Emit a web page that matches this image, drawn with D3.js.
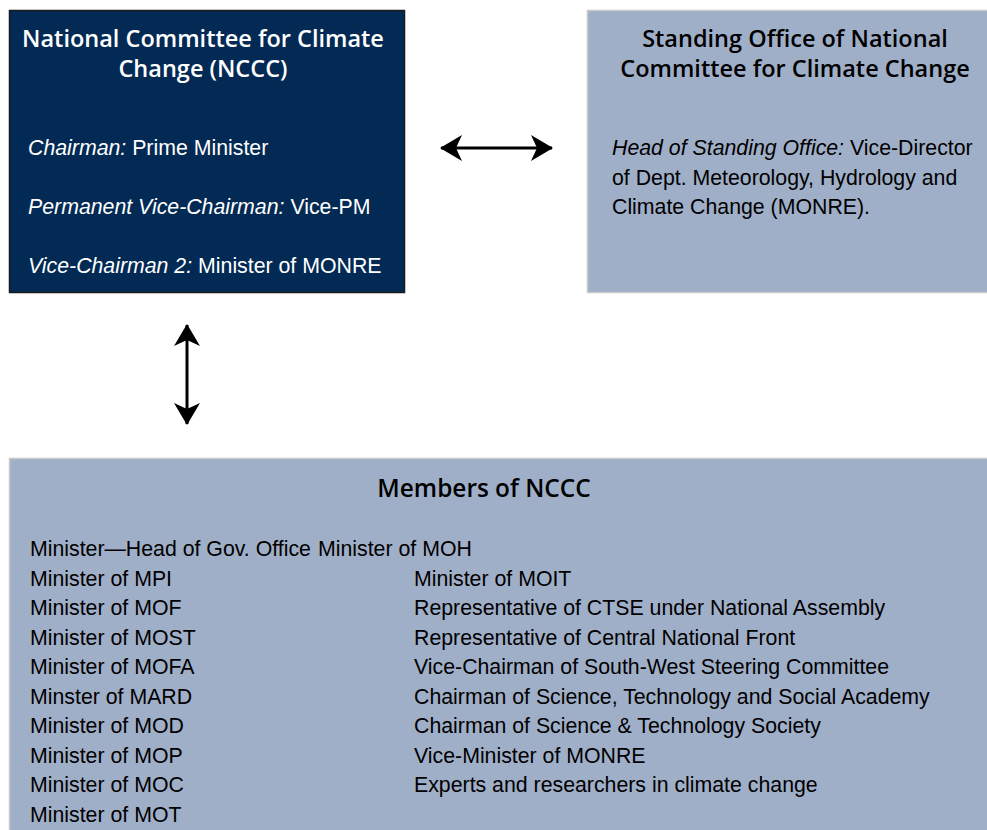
<!DOCTYPE html>
<html>
<head>
<meta charset="utf-8">
<script src="https://cdn.jsdelivr.net/npm/d3@7"></script>
<style>
  body { margin: 0; background: #fff; }
  svg { display: block; }
</style>
</head>
<body>
<div id="chart"></div>
<script>
// data
var nccTitle = ["National Committee for Climate", "Change (NCCC)"];
var nccRoles = [
  ["Chairman:", "Prime Minister"],
  ["Permanent Vice-Chairman:", "Vice-PM"],
  ["Vice-Chairman 2:", "Minister of MONRE"]
];
var officeTitle = ["Standing Office of National", "Committee for Climate Change"];
var officeLines = [
  ["Head of Standing Office:", "Vice-Director"],
  ["", "of Dept. Meteorology, Hydrology and"],
  ["", "Climate Change (MONRE)."]
];
var membersTitle = "Members of NCCC";
var membersLeft = [
  "Minister\u2014Head of Gov. Office",
  "Minister of MPI", "Minister of MOF", "Minister of MOST", "Minister of MOFA",
  "Minster of MARD", "Minister of MOD", "Minister of MOP", "Minister of MOC",
  "Minister of MOT"
];
var membersRight = [
  "Minister of MOH",
  "Minister of MOIT",
  "Representative of CTSE under National Assembly",
  "Representative of Central National Front",
  "Vice-Chairman of South-West Steering Committee",
  "Chairman of Science, Technology and Social Academy",
  "Chairman of Science & Technology Society",
  "Vice-Minister of MONRE",
  "Experts and researchers in climate change"
];

var width = 987, height = 830;
var navy = "#022a54", pale = "#a0afc8";
var bodyFont = "'Liberation Sans', Arial, sans-serif";
var titleFont = "'Open Sans', Lato, sans-serif";
var fs = 21.3, tfs = 23.5;

var svg = d3.select("#chart").append("svg")
    .attr("width", width)
    .attr("height", height);

var defs = svg.append("defs");
defs.append("marker")
    .attr("id", "head")
    .attr("viewBox", "0 0 22 26")
    .attr("refX", 21).attr("refY", 13)
    .attr("markerWidth", 22).attr("markerHeight", 26)
    .attr("markerUnits", "userSpaceOnUse")
    .attr("orient", "auto-start-reverse")
    .append("path")
    .attr("d", "M0,0 L22,13 L0,26 L6,13 Z")
    .attr("fill", "#000");

// row scale shared by the text rows (line pitch ~29.5px)
var row = d3.scaleLinear().domain([0, 1]).range([0, 29.5]);

// boxes
svg.append("rect")
    .attr("x", 9.5).attr("y", 10.5).attr("width", 395).attr("height", 282)
    .attr("fill", navy).attr("stroke", "#1a1a1a").attr("stroke-width", 1.5);

svg.append("rect")
    .attr("x", 587.5).attr("y", 10.5).attr("width", 405).attr("height", 282)
    .attr("fill", pale).attr("stroke", "#c8c8c8").attr("stroke-width", 1.5);

svg.append("rect")
    .attr("x", 9.5).attr("y", 458.5).attr("width", 990).attr("height", 380)
    .attr("fill", pale).attr("stroke", "#c8c8c8").attr("stroke-width", 1.5);

// titles
function titleLines(lines, cx, y0, color, size) {
  svg.append("g").selectAll("text").data(lines).enter().append("text")
      .attr("x", cx)
      .attr("y", function (d, i) { return y0 + row(i); })
      .attr("text-anchor", "middle")
      .attr("font-family", titleFont)
      .attr("font-weight", 600)
      .attr("font-size", size)
      .attr("fill", color)
      .text(function (d) { return d; });
}
titleLines(nccTitle, 203, 47, "#fff", tfs);
titleLines(officeTitle, 795, 47, "#000", tfs);
titleLines([membersTitle], 484, 497, "#000", 24.4);

// role lines: italic label + plain value
function roleLines(data, x, ys, color) {
  var t = svg.append("g").selectAll("text").data(data).enter().append("text")
      .attr("x", x)
      .attr("y", function (d, i) { return ys(i); })
      .attr("font-family", bodyFont)
      .attr("font-size", fs)
      .attr("fill", color);
  t.append("tspan")
      .attr("font-style", "italic")
      .text(function (d) { return d[0] ? d[0] + " " : ""; });
  t.append("tspan")
      .text(function (d) { return d[1]; });
}
roleLines(nccRoles, 28, function (i) { return 155 + i * 59; }, "#fff");
roleLines(officeLines, 612, function (i) { return 155 + row(i); }, "#000");

// members
var memTop = 556;
var members = svg.append("g")
    .attr("font-family", bodyFont)
    .attr("font-size", fs);

members.selectAll("text.left").data(membersLeft).enter().append("text")
    .attr("class", "left")
    .attr("x", 30)
    .attr("y", function (d, i) { return memTop + row(i); })
    .text(function (d) { return d; });

members.append("text")
    .attr("x", 318).attr("y", memTop)
    .text(membersRight[0]);

members.selectAll("text.right").data(membersRight.slice(1)).enter().append("text")
    .attr("class", "right")
    .attr("x", 414)
    .attr("y", function (d, i) { return memTop + row(i + 1); })
    .text(function (d) { return d; });

// arrows
svg.append("line")
    .attr("x1", 441).attr("y1", 148).attr("x2", 552).attr("y2", 148)
    .attr("stroke", "#000").attr("stroke-width", 3)
    .attr("marker-start", "url(#head)").attr("marker-end", "url(#head)");

svg.append("line")
    .attr("x1", 187).attr("y1", 325).attr("x2", 187).attr("y2", 424)
    .attr("stroke", "#000").attr("stroke-width", 3)
    .attr("marker-start", "url(#head)").attr("marker-end", "url(#head)");
</script>
</body>
</html>
